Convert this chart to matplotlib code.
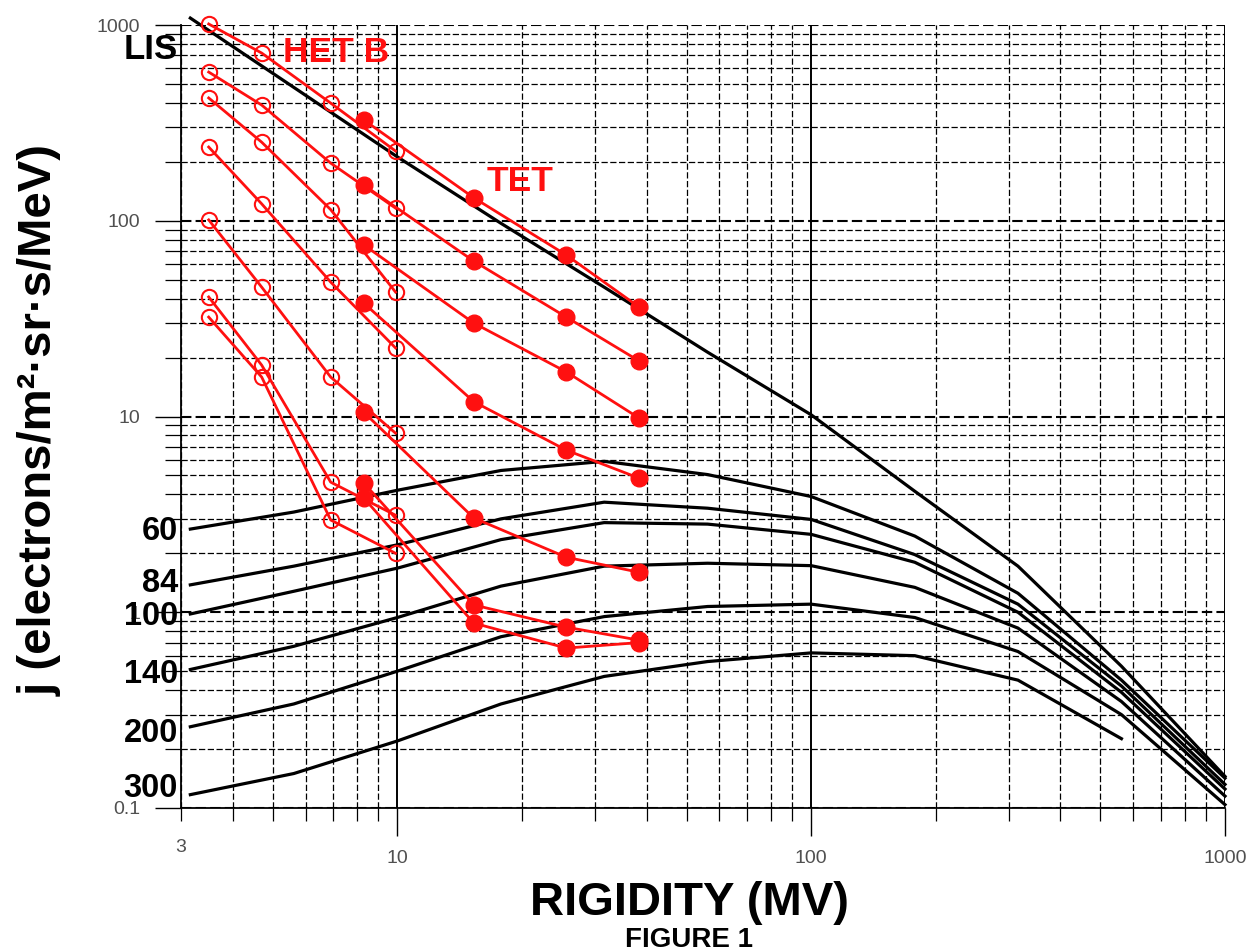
import matplotlib
matplotlib.use("Agg")
import matplotlib.pyplot as plt
from matplotlib import font_manager
from matplotlib.ticker import FixedLocator, FixedFormatter, NullFormatter

available = {f.name for f in font_manager.fontManager.ttflist}
BASE = "Liberation Sans"
NARROW = "Liberation Sans Narrow" if "Liberation Sans Narrow" in available else None

# ---------------- data ----------------
rigidity = [3.16, 5.62, 10, 17.8, 31.6, 56.2, 100, 178, 316, 562, 1000]
lis = [1085, 480, 212, 97, 45.8, 21.3, 10.2, 4.15, 1.72, 0.53, 0.145]

phi_labels = ["60", "84", "100", "140", "200", "300"]
mod_60 = [2.66, 3.25, 4.2, 5.3, 5.9, 5.05, 3.9, 2.45, 1.25, 0.45, 0.142]
mod_84 = [1.38, 1.72, 2.21, 3.0, 3.65, 3.4, 2.98, 1.97, 1.10, 0.42, 0.132]
mod_100 = [0.98, 1.28, 1.68, 2.35, 2.87, 2.82, 2.5, 1.80, 1.0, 0.39, 0.125]
mod_140 = [0.51, 0.67, 0.94, 1.36, 1.72, 1.78, 1.73, 1.34, 0.83, 0.35, 0.115]
mod_200 = [0.26, 0.34, 0.50, 0.75, 0.95, 1.07, 1.10, 0.94, 0.63, 0.30, 0.104]
mod_300 = [0.117, 0.15, 0.22, 0.34, 0.47, 0.56, 0.62, 0.60, 0.45, 0.226]
modulated = [mod_60, mod_84, mod_100, mod_140, mod_200, mod_300]

het_rigidity = [3.5, 4.7, 6.9, 9.9]
het_b = [
    [1012, 719, 399, 227],
    [575, 390, 197, 116],
    [424, 252, 114, 43.2],
    [238, 122, 48.6, 22.4],
    [101, 45.8, 15.9, 8.22],
    [40.8, 18.3, 4.62, 3.13],
    [32.2, 15.9, 2.96, 2.00],
]
tet_rigidity = [8.3, 15.3, 25.6, 38.4]
tet = [
    [327, 131, 66.8, 36.2],
    [152, 62.2, 32.2, 19.2],
    [75.2, 30.0, 16.9, 9.81],
    [37.9, 11.9, 6.73, 4.84],
    [10.5, 3.03, 1.91, 1.60],
    [4.57, 1.09, 0.839, 0.720],
    [3.83, 0.880, 0.656, 0.70],
]

x_major = [10, 100, 1000]
x_major_labels = ["10", "100", "1000"]
y_major = [0.1, 1, 10, 100, 1000]
y_major_labels = ["0.1", "1", "10", "100", "1000"]

# ---------------- figure ----------------
W, H = 1254, 951
fig = plt.figure(figsize=(W / 100, H / 100), dpi=100)
L, R, T, B = 181, 1225, 25, 808
ax = fig.add_axes([L / W, 1 - B / H, (R - L) / W, (B - T) / H])
ax.set_xscale("log")
ax.set_yscale("log")
ax.set_xlim(3, 1000)
ax.set_ylim(0.1, 1000)

def px(x, y):
    return x / W, 1 - y / H

RED = "#ff1010"

# grid
ax.set_axisbelow(True)
ax.xaxis.grid(True, which="major", color="black", lw=1.4, ls="-")
ax.xaxis.grid(True, which="minor", color="black", lw=0.9, ls=(0, (5, 2)))
ax.yaxis.grid(True, which="major", color="black", lw=1.5, ls=(0, (5, 2)))
ax.yaxis.grid(True, which="minor", color="black", lw=0.9, ls=(0, (5, 2)))

for s in ["top", "right"]:
    ax.spines[s].set_visible(False)
for s in ["left", "bottom"]:
    ax.spines[s].set_linewidth(1.3)

# ticks
ax.xaxis.set_major_locator(FixedLocator(x_major))
ax.xaxis.set_major_formatter(FixedFormatter(x_major_labels))
x_minor = [v * d for d in (1, 10, 100) for v in range(2, 10) if 3 <= v * d < 1000]
ax.xaxis.set_minor_locator(FixedLocator(x_minor))
ax.xaxis.set_minor_formatter(FixedFormatter(["3"] + [""] * (len(x_minor) - 1)))
ax.yaxis.set_major_locator(FixedLocator(y_major))
ax.yaxis.set_major_formatter(FixedFormatter(y_major_labels))
y_minor = [v * d for d in (0.1, 1, 10, 100) for v in range(2, 10)]
ax.yaxis.set_minor_locator(FixedLocator(y_minor))
ax.yaxis.set_minor_formatter(NullFormatter())

ax.tick_params(axis="x", which="major", length=20, width=1.0, pad=10.5,
               labelsize=14, labelcolor="#505050")
ax.tick_params(axis="x", which="minor", length=9, width=0.9, pad=13.5,
               labelsize=14, labelcolor="#505050")
ax.tick_params(axis="y", which="major", length=18.7, width=1.0, pad=10.5,
               labelsize=14, labelcolor="#505050")
ax.tick_params(axis="y", which="minor", length=11.5, width=0.9)
for lab in ax.get_xticklabels(which="both") + ax.get_yticklabels():
    lab.set_fontfamily(BASE)

# black model curves
ax.plot(rigidity, lis, color="black", lw=2.3, clip_on=False, zorder=3)
for vals in modulated:
    ax.plot(rigidity[:len(vals)], vals, color="black", lw=2.3, clip_on=False, zorder=3)

# red data
for vals in het_b:
    ax.plot(het_rigidity, vals, color=RED, lw=2.0, marker="o", ms=11,
            mfc="none", mec=RED, mew=1.5, clip_on=False, zorder=4)
for vals in tet:
    ax.plot(tet_rigidity, vals, color=RED, lw=2.0, marker="o", ms=12,
            mfc=RED, mec=RED, clip_on=False, zorder=4)

# annotations
fs_big = dict(family=BASE, weight="bold")
fig.text(*px(178, 59), "LIS", ha="right", va="baseline", fontsize=25, color="black", **fs_big)
fig.text(*px(283, 62), "HET B", ha="left", va="baseline", fontsize=25.5, color=RED, **fs_big)
fig.text(*px(487, 191), "TET", ha="left", va="baseline", fontsize=25.5, color=RED, **fs_big)

label_baselines = [540, 592, 625, 683, 742, 797]
for lab, yb in zip(phi_labels, label_baselines):
    fig.text(*px(178, yb), lab, ha="right", va="baseline", fontsize=23.5,
             color="black", **fs_big)

if NARROW:
    fig.text(*px(690, 915), "RIGIDITY (MV)", ha="center", va="baseline",
             fontsize=39, family=NARROW, weight="bold")
    fig.text(*px(689, 947), "FIGURE 1", ha="center", va="baseline",
             fontsize=23, family=NARROW, weight="bold")
else:
    fig.text(*px(690, 915), "RIGIDITY (MV)", ha="center", va="baseline",
             fontsize=34, **fs_big)
    fig.text(*px(689, 947), "FIGURE 1", ha="center", va="baseline",
             fontsize=20, **fs_big)

fig.text(*px(40, 420), "j (electrons/m²·sr·s/MeV)", rotation=90, ha="center",
         va="center", fontsize=34, **fs_big)

fig.savefig("out.png", dpi=100)
